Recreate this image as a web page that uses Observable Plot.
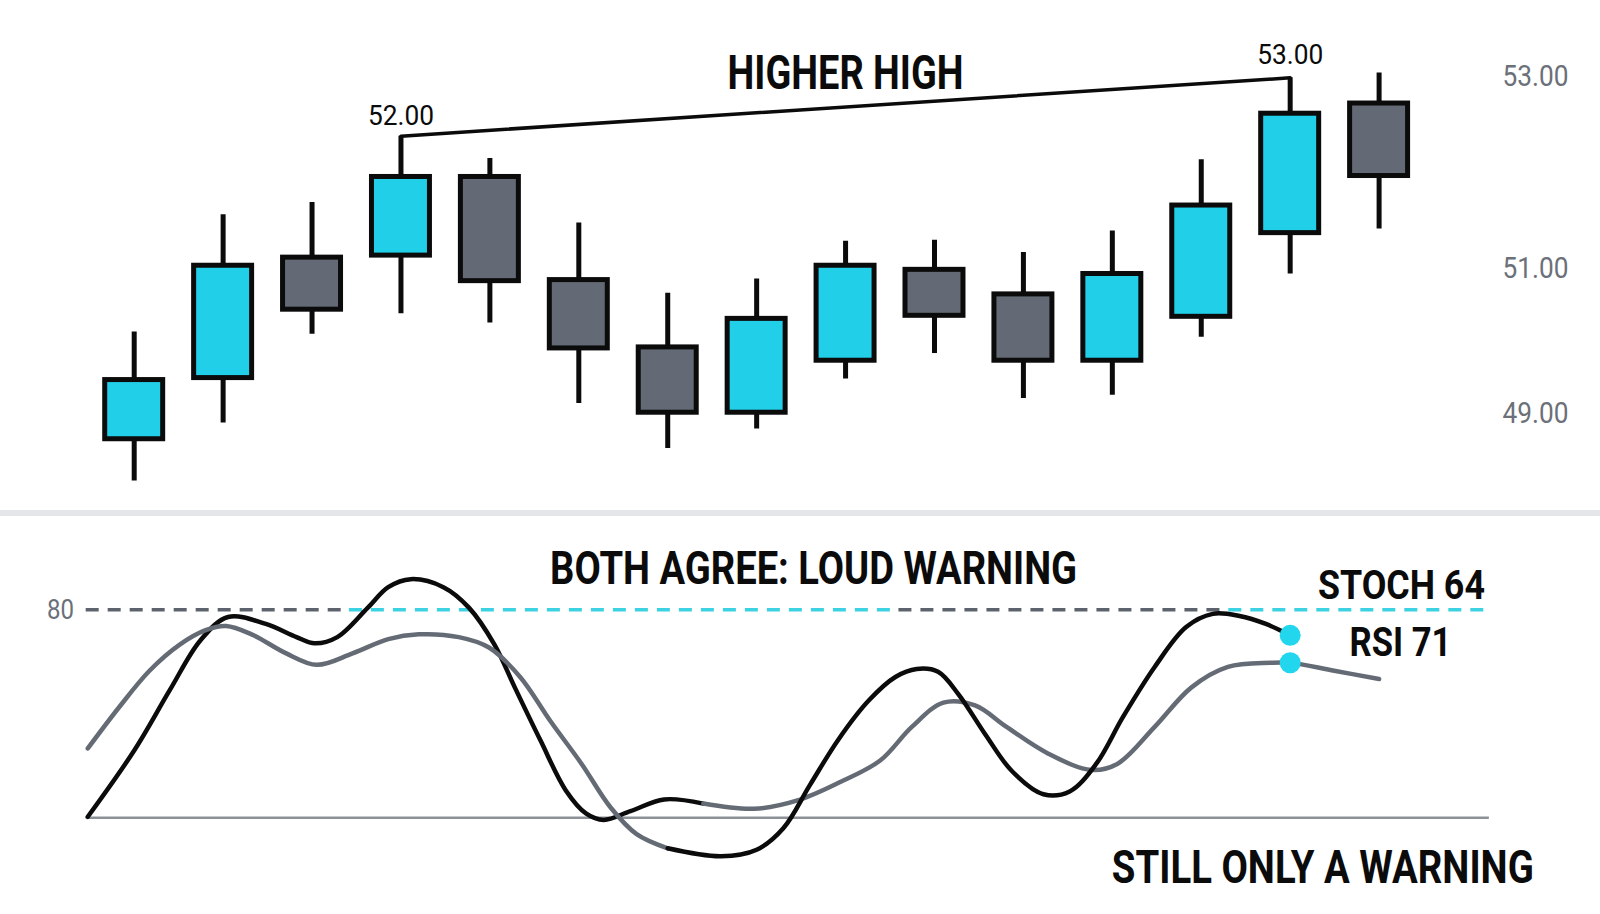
<!DOCTYPE html>
<html>
<head>
<meta charset="utf-8">
<script src="https://cdn.jsdelivr.net/npm/d3@7"></script>
<script src="https://cdn.jsdelivr.net/npm/@observablehq/plot@0.6"></script>
<style>
  html, body { margin: 0; padding: 0; background: #ffffff; }
  #chart { width: 1600px; height: 914px; overflow: hidden; }
  #chart svg { display: block; }
  .sep { height: 6px; background: #e4e6e9; }
</style>
</head>
<body>
<div id="chart"></div>
<script>
// ---------- data ----------
const candleIndex = [1, 2, 3, 4, 5, 6, 7, 8, 9, 10, 11, 12, 13, 14, 15];
const opens  = [48.585, 49.544, 51.122, 51.146, 52.015, 50.853, 49.980, 49.017, 49.794, 50.977, 50.676, 49.794, 50.390, 51.405, 52.744];
const highs  = [50.188, 51.610, 51.744, 52.429, 52.204, 51.520, 50.689, 50.865, 51.312, 51.324, 51.182, 51.428, 52.193, 52.983, 53.028];
const lows   = [47.843, 48.853, 50.160, 50.430, 50.310, 49.160, 48.428, 48.754, 49.530, 49.895, 49.239, 49.286, 50.119, 50.927, 51.451];
const closes = [49.515, 51.026, 50.482, 52.015, 50.840, 49.966, 49.017, 50.363, 51.026, 50.403, 49.794, 50.927, 51.711, 52.647, 52.025];
const priceTicks = [49, 51, 53];
const higherHighCandles = [4, 14];

// oscillators (x in candle-index units, value on the oscillator scale)
const stochX = [0.478, 0.828, 1.172, 1.516, 1.803, 2.033, 2.32, 2.71, 3.054, 3.456, 3.857, 4.2, 4.65, 4.99, 5.34, 5.68, 6.03, 6.36, 6.65, 7.0, 7.6, 8.0, 8.3, 8.6, 8.92, 9.26, 9.56, 9.8, 10.04, 10.27, 10.57, 10.87, 11.225, 11.52, 11.82, 12.12, 12.476, 12.83, 13.13, 13.43, 13.727, 14.0];
const stochY = [40.0, 51.8, 62.4, 70.0, 74.1, 75.3, 72.9, 67.4, 64.1, 67.4, 71.5, 72.9, 72.1, 69.1, 60.6, 47.9, 35.6, 22.9, 15.3, 11.2, 8.9, 10.8, 17.0, 29.5, 42.6, 53.8, 60.6, 62.9, 62.1, 55.6, 44.1, 33.5, 26.8, 27.6, 35.6, 49.1, 63.5, 75.0, 78.8, 78.2, 75.9, 72.6];
const rsiX = [0.478, 1.0, 1.4, 1.746, 2.056, 2.48, 2.825, 3.03, 3.284, 3.628, 3.857, 4.11, 4.477, 4.764, 5.05, 5.28, 5.567, 5.854, 6.084, 6.28, 6.58, 6.96, 7.4, 7.97, 8.46, 8.94, 9.389, 9.745, 10.1, 10.456, 10.81, 11.28, 11.764, 12.06, 12.476, 12.89, 13.3, 13.78, 14.0, 14.495, 15.0];
const rsiY = [20.3, 39.4, 56.8, 71.2, 77.9, 75.9, 72.1, 70.3, 72.1, 80.6, 86.5, 88.8, 86.5, 80.6, 70.0, 57.6, 42.4, 27.9, 21.2, 19.4, 21.9, 25.3, 24.1, 22.6, 25.0, 30.3, 36.5, 46.2, 53.2, 52.4, 46.2, 38.5, 33.8, 35.6, 46.2, 57.6, 63.5, 64.7, 64.7, 62.4, 60.0];
const stochColorSwitch = 7.0;   // grey before, black after
const rsiColorSwitch = 6.96;    // black before, grey after
const markerIndex = 14;
const overbought = 80;
const floorLevel = 20;
const overboughtSpans = [
  {x1: 0.46, x2: 3.42, hot: false},
  {x1: 3.42, x2: 9.6, hot: true},
  {x1: 9.6, x2: 13.31, hot: false},
  {x1: 13.31, x2: 16.24, hot: true}
];
const floorSpan = [{x1: 0.46, x2: 16.24}];

// ---------- styling ----------
const CYAN = "#22cfe8";
const SLATE = "#636a75";
const LINE_GREY = "#656b75";
const INK = "#0b0b0b";
const AXIS_GREY = "#6b7079";
const textWidths = {
  "HIGHER HIGH": 236,
  "BOTH AGREE: LOUD WARNING": 527,
  "STOCH 64": 167,
  "RSI 71": 102,
  "STILL ONLY A WARNING": 422,
  "52.00": 66,
  "53.00": 66,
  "51.00": 66,
  "49.00": 66,
  "80": 27
};
function fitText(svg) {
  svg.querySelectorAll("text").forEach(t => {
    const w = textWidths[t.textContent.trim()];
    if (w) {
      t.setAttribute("textLength", w);
      t.setAttribute("lengthAdjust", "spacingAndGlyphs");
    }
  });
}

const xScale = () => ({domain: [1, 15], range: [133.7, 1378.6], axis: null});

// ---------- top panel: candles ----------
const candles = candleIndex.map((i, k) => ({i, open: opens[k], high: highs[k], low: lows[k], close: closes[k]}));
const hhPoints = higherHighCandles.map(i => ({i, p: highs[i - 1]}));
const halfBody = 0.326;

const topPlot = Plot.plot({
  width: 1600,
  height: 510,
  marginTop: 0, marginBottom: 0, marginLeft: 0, marginRight: 98,
  style: {fontFamily: "Roboto, 'Liberation Sans', sans-serif", background: "#ffffff", overflow: "visible"},
  x: xScale(),
  y: {type: "pow", exponent: 8, domain: [49, 53], range: [413.3, 75.5]},
  color: {type: "identity"},
  marks: [
    Plot.axisY(priceTicks, {anchor: "right", tickSize: 0, tickPadding: 0, tickFormat: d => d.toFixed(2), fontSize: 30, color: AXIS_GREY, label: null}),
    Plot.line(hhPoints, {x: "i", y: "p", stroke: INK, strokeWidth: 3.5}),
    Plot.ruleX(candles, {x: "i", y1: "low", y2: "high", stroke: INK, strokeWidth: 5}),
    Plot.rect(candles, {
      x1: d => d.i - halfBody,
      x2: d => d.i + halfBody,
      y1: d => Math.min(d.open, d.close),
      y2: d => Math.max(d.open, d.close),
      fill: d => (d.close >= d.open ? CYAN : SLATE),
      stroke: INK,
      strokeWidth: 5
    }),
    Plot.text([{t: "HIGHER HIGH", i: 9.0, p: 52.882}], {x: "i", y: "p", text: "t", lineAnchor: "bottom", textAnchor: "middle", fontSize: 49, fontWeight: 700, fill: INK}),
    Plot.text([{t: "52.00", i: 4, p: 52.538}, {t: "53.00", i: 14, p: 53.111}], {x: "i", y: "p", text: "t", lineAnchor: "bottom", textAnchor: "middle", fontSize: 28, fontWeight: 400, fill: INK})
  ]
});
fitText(topPlot);

// ---------- bottom panel: oscillators ----------
const stochRows = stochX.map((x, k) => ({x, v: stochY[k], series: "stoch", color: x < stochColorSwitch ? LINE_GREY : INK}));
const rsiRows = rsiX.map((x, k) => ({x, v: rsiY[k], series: "rsi", color: x <= rsiColorSwitch ? INK : LINE_GREY}));
const markers = [
  {x: markerIndex, v: stochY[stochX.indexOf(markerIndex)]},
  {x: markerIndex, v: rsiY[rsiX.indexOf(markerIndex)]}
];

const bottomPlot = Plot.plot({
  width: 1600,
  height: 398,
  marginTop: 0, marginBottom: 0, marginLeft: 0, marginRight: 0,
  style: {fontFamily: "Roboto, 'Liberation Sans', sans-serif", background: "#ffffff", overflow: "visible"},
  x: xScale(),
  y: {domain: [floorLevel, overbought], range: [301.3, 93.2], axis: null},
  color: {type: "identity"},
  marks: [
    Plot.ruleY(floorSpan, {y: floorLevel, x1: "x1", x2: "x2", stroke: "#8c9198", strokeWidth: 2.5}),
    Plot.ruleY(overboughtSpans, {y: overbought, x1: "x1", x2: "x2", stroke: d => (d.hot ? "#3dd2e2" : "#5d636d"), strokeWidth: 3.5, strokeDasharray: "13,9"}),
    Plot.line(rsiRows, {x: "x", y: "v", z: "series", stroke: "color", strokeWidth: 4.5, curve: "catmull-rom", strokeLinecap: "round"}),
    Plot.line(stochRows, {x: "x", y: "v", z: "series", stroke: "color", strokeWidth: 4.5, curve: "catmull-rom", strokeLinecap: "round"}),
    Plot.dot(markers, {x: "x", y: "v", r: 10.5, fill: "#22d6ee", stroke: null}),
    Plot.text([{t: "80", x: 0.323, v: overbought}], {x: "x", y: "v", text: "t", textAnchor: "end", lineAnchor: "middle", fontSize: 28, fill: AXIS_GREY}),
    Plot.text([{t: "BOTH AGREE: LOUD WARNING", x: 8.64, v: 87.4}], {x: "x", y: "v", text: "t", textAnchor: "middle", lineAnchor: "bottom", fontSize: 46, fontWeight: 700, fill: INK}),
    Plot.text([{t: "STOCH 64", x: 16.19, v: 83.06}], {x: "x", y: "v", text: "t", textAnchor: "end", lineAnchor: "bottom", fontSize: 41, fontWeight: 700, fill: INK}),
    Plot.text([{t: "RSI 71", x: 15.24, v: 66.77}], {x: "x", y: "v", text: "t", textAnchor: "middle", lineAnchor: "bottom", fontSize: 41, fontWeight: 700, fill: INK}),
    Plot.text([{t: "STILL ONLY A WARNING", x: 16.74, v: 1.3}], {x: "x", y: "v", text: "t", textAnchor: "end", lineAnchor: "bottom", fontSize: 47, fontWeight: 700, fill: INK})
  ]
});
fitText(bottomPlot);

const chart = document.getElementById("chart");
chart.appendChild(topPlot);
const sep = document.createElement("div");
sep.className = "sep";
chart.appendChild(sep);
chart.appendChild(bottomPlot);
</script>
</body>
</html>
